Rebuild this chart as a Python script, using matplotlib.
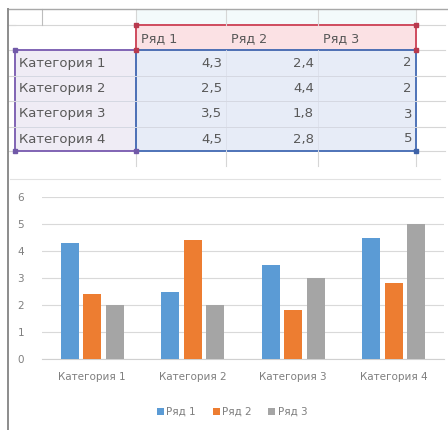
import numpy as np
import matplotlib.pyplot as plt
from matplotlib.patches import Rectangle

# data
categories = ['Категория 1', 'Категория 2', 'Категория 3', 'Категория 4']
series_names = ['Ряд 1', 'Ряд 2', 'Ряд 3']
row1 = [4.3, 2.5, 3.5, 4.5]
row2 = [2.4, 4.4, 1.8, 2.8]
row3 = [2, 2, 3, 5]
colors = ['#5B9BD5', '#ED7D31', '#A5A5A5']

plt.rcParams['font.family'] = ['DejaVu Sans']

fig = plt.figure(figsize=(4.48, 4.3), dpi=100)

# spreadsheet part drawn in pixel coordinates
bg = fig.add_axes([0, 0, 1, 1])
bg.set_xlim(0, 448)
bg.set_ylim(430, 0)
bg.axis('off')

col_x = [15, 136, 226, 318, 416]
row_y = [25, 50, 76, 101, 127, 151]
grid_c = '#D6D6D6'

# fills
bg.add_patch(Rectangle((136, 9), 280, 16, fc='#F3FAFB', ec='none'))
bg.add_patch(Rectangle((136, 25), 280, 25, fc='#FBE1E4', ec='none'))
bg.add_patch(Rectangle((15, 50), 121, 101, fc='#EFECF5', ec='none'))
bg.add_patch(Rectangle((136, 50), 280, 101, fc='#E7ECF7', ec='none'))

# light sheet grid
for x in col_x[1:]:
    bg.plot([x, x], [9, 25], color=grid_c, lw=0.8)
    bg.plot([x, x], [151, 166], color=grid_c, lw=0.8)
for x in col_x[2:4]:
    bg.plot([x, x], [50, 151], color='#DCE0EA', lw=0.6)
for y in row_y[2:5]:
    bg.plot([15, 416], [y, y], color='#D5D8E2', lw=0.7)
for y in row_y:
    bg.plot([8, 15], [y, y], color=grid_c, lw=0.8)
    bg.plot([416, 445], [y, y], color=grid_c, lw=0.8)
bg.plot([8, 136], [25, 25], color=grid_c, lw=0.8)
bg.plot([42, 42], [9, 25], color='#BDBDBD', lw=0.8)
bg.plot([8, 448], [9, 9], color='#A8A8A8', lw=1.0)
bg.plot([8, 8], [9, 430], color='#8C8C8C', lw=1.4)
bg.plot([10, 440], [179, 179], color='#E2E2E2', lw=0.8)

# selection borders
bg.add_patch(Rectangle((136, 25), 280, 25, fc='none', ec='#CF4B5E', lw=1.4))
bg.add_patch(Rectangle((15, 50), 121, 101, fc='none', ec='#8064B4', lw=1.4))
bg.add_patch(Rectangle((136, 50), 280, 101, fc='none', ec='#4E73B8', lw=1.4))
bg.plot([136, 416, 136, 416], [25, 25, 50, 50], 's', ms=3, color='#B83A4E')
bg.plot([15, 15, 136], [50, 151, 151], 's', ms=3, color='#7159A8')
bg.plot([416], [151], 's', ms=3, color='#3F63A8')

txt_c = '#595959'
for i, name in enumerate(series_names):
    bg.text(col_x[i + 1] + 5, 39, name, fontsize=9.2, color=txt_c, va='center')
values = [row1, row2, row3]
for r, cat in enumerate(categories):
    yc = (row_y[r + 1] + row_y[r + 2]) / 2
    bg.text(19, yc, cat, fontsize=9.5, color=txt_c, va='center')
    for i in range(3):
        v = values[i][r]
        s = str(v).replace('.', ',') if v != int(v) else str(int(v))
        bg.text(col_x[i + 2] - 4, yc, s, fontsize=9.5, color=txt_c,
                va='center', ha='right')

# chart
ax = fig.add_axes([42 / 448, 1 - 359 / 430, 402 / 448, 162 / 430])
x = np.arange(len(categories))
w = 0.18
for i, vals in enumerate(values):
    ax.bar(x + (i - 1) * 0.225, vals, width=w, color=colors[i],
           label=series_names[i], zorder=3)
ax.set_xlim(-0.5, 3.5)
ax.set_ylim(0, 6)
ax.set_yticks(range(7))
ax.set_xticks(x)
ax.set_xticklabels(categories)
ax.grid(axis='y', color='#D9D9D9', lw=0.8, zorder=0)
for s in ['top', 'right', 'left']:
    ax.spines[s].set_visible(False)
ax.spines['bottom'].set_color('#D0D0D0')
ax.tick_params(length=0, labelsize=7.5, labelcolor='#7F7F7F')
ax.tick_params(axis='x', pad=9)
ax.tick_params(axis='y', pad=13)

fig.legend(loc='center', bbox_to_anchor=(232 / 448, 1 - 412 / 430), ncol=3,
           frameon=False, fontsize=7.5, handlelength=0.7, handleheight=0.7,
           handletextpad=0.2, columnspacing=1.6, labelcolor='#7F7F7F')

fig.savefig('out.png', dpi=100)
